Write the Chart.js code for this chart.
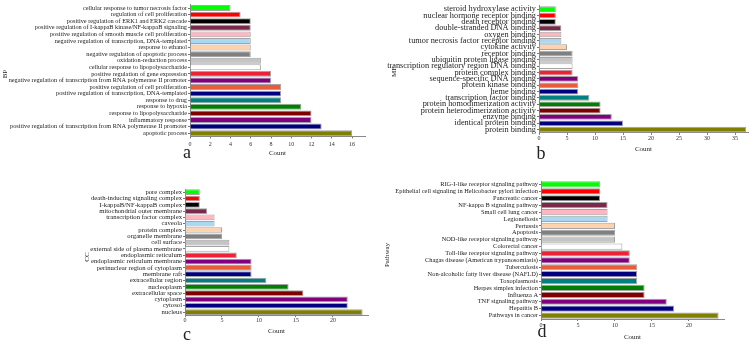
<!DOCTYPE html>
<html><head><meta charset="utf-8">
<script src="https://cdn.jsdelivr.net/npm/chart.js@4/dist/chart.umd.min.js"></script>
<style>
body{margin:0;background:#fff;width:749px;height:342px;overflow:hidden;position:relative;}
canvas{position:absolute;}
.lt{position:absolute;font-family:"Liberation Serif",serif;font-size:18px;color:#222;line-height:1;transform:translate(-50%,-50%);}
.yt{position:absolute;font-family:"Liberation Serif",serif;font-size:7px;color:#222;line-height:1;white-space:nowrap;transform:translate(-50%,-50%) rotate(-90deg);}
</style></head><body>
<canvas id="ca" width="366" height="160" style="left:0;top:0"></canvas>
<canvas id="cb" width="364" height="156" style="left:385px;top:0"></canvas>
<canvas id="cc" width="291" height="154" style="left:78px;top:184px"></canvas>
<canvas id="cd" width="347" height="166" style="left:378px;top:176px"></canvas>
<div class="lt" style="left:187px;top:152px">a</div>
<div class="lt" style="left:541px;top:153px">b</div>
<div class="lt" style="left:187px;top:334px">c</div>
<div class="lt" style="left:542px;top:331px">d</div>
<div class="yt" style="left:5px;top:74px">BP</div>
<div class="yt" style="left:394px;top:72px">MF</div>
<div class="yt" style="left:87px;top:257px">CC</div>
<div class="yt" style="left:387px;top:255px">Pathway</div>
<script>
const bpLabels = ["cellular response to tumor necrosis factor","regulation of cell proliferation","positive regulation of ERK1 and ERK2 cascade","positive regulation of I-kappaB kinase/NF-kappaB signaling","positive regulation of smooth muscle cell proliferation","negative regulation of transcription, DNA-templated","response to ethanol","negative regulation of apoptotic process","oxidation-reduction process","cellular response to lipopolysaccharide","positive regulation of gene expression","negative regulation of transcription from RNA polymerase II promoter","positive regulation of cell proliferation","positive regulation of transcription, DNA-templated","response to drug","response to hypoxia","response to lipopolysaccharide","inflammatory response","positive regulation of transcription from RNA polymerase II promoter","apoptotic process"];
const bpCounts = [4,5,6,6,6,6,6,6,7,7,8,8,9,9,9,11,12,12,13,16];
const bpTicks = [0,2,4,6,8,10,12,14,16];

const mfLabels = ["steroid hydroxylase activity","nuclear hormone receptor binding","death receptor binding","double-stranded DNA binding","oxygen binding","tumor necrosis factor receptor binding","cytokine activity","receptor binding","ubiquitin protein ligase binding","transcription regulatory region DNA binding","protein complex binding","sequence-specific DNA binding","protein kinase binding","heme binding","transcription factor binding","protein homodimerization activity","protein heterodimerization activity","enzyme binding","identical protein binding","protein binding"];
const mfCounts = [3,3,3,4,4,4,5,6,6,6,6,7,7,7,9,11,11,13,15,37];
const mfTicks = [0,5,10,15,20,25,30,35];

const ccLabels = ["pore complex","death-inducing signaling complex","I-kappaB/NF-kappaB complex","mitochondrial outer membrane","transcription factor complex","caveola","protein complex","organelle membrane","cell surface","external side of plasma membrane","endoplasmic reticulum","endoplasmic reticulum membrane","perinuclear region of cytoplasm","membrane raft","extracellular region","nucleoplasm","extracellular space","cytoplasm","cytosol","nucleus"];
const ccCounts = [2,2,2,3,4,4,5,5,6,6,7,9,9,9,11,14,16,22,22,24];
const ccTicks = [0,5,10,15,20];

const pathLabels = ["RIG-I-like receptor signaling pathway","Epithelial cell signaling in Helicobacter pylori infection","Pancreatic cancer","NF-kappa B signaling pathway","Small cell lung cancer","Legionellosis","Pertussis","Apoptosis","NOD-like receptor signaling pathway","Colorectal cancer","Toll-like receptor signaling pathway","Chagas disease (American trypanosomiasis)","Tuberculosis","Non-alcoholic fatty liver disease (NAFLD)","Toxoplasmosis","Herpes simplex infection","Influenza A","TNF signaling pathway","Hepatitis B","Pathways in cancer"];
const pathCounts = [8,8,8,9,9,9,10,10,10,11,12,12,13,13,13,14,14,17,18,24];
const pathTicks = [0,5,10,15,20];

const palette = ["#00ff00","#ff0000","#000000","#7a2a48","#ffb6c1","#aad8f2","#ffd2ae","#808080","#c4c4c4","#ffffff","#ee2236","#800080","#e85c3c","#000080","#008080","#008000","#800000","#800080","#000080","#808000"];

const SERIF = "'Liberation Serif', 'Times New Roman', serif";

function panel(o){
  new Chart(document.getElementById(o.id), {
    type: 'bar',
    data: { labels: o.labels, datasets: [{ data: o.values, backgroundColor: palette, borderColor: '#a4a4a4', borderWidth: 1, categoryPercentage: 1, barPercentage: 0.9 }] },
    options: {
      indexAxis: 'y', responsive: false, animation: false, devicePixelRatio: 1,
      layout: { padding: { top: o.padTop, right: 1, left: 0, bottom: 0 } },
      plugins: { legend: { display: false }, tooltip: { enabled: false } },
      scales: {
        x: {
          min: 0, max: o.max,
          afterBuildTicks: s => { s.ticks = o.ticks.map(v => ({ value: v })); },
          afterFit: s => { s.height = o.xH; },
          grid: { drawOnChartArea: false, drawTicks: true, tickLength: 2, color: '#777' },
          border: { color: '#888', width: 1 },
          ticks: { font: { family: SERIF, size: 6 }, color: '#333', padding: o.tickPad, maxRotation: 0 },
          title: { display: true, text: 'Count', font: { family: SERIF, size: 7 }, color: '#222', padding: { top: 0, bottom: o.countPad } }
        },
        y: {
          afterFit: s => { s.width = o.yW; },
          grid: { drawOnChartArea: false, drawTicks: true, tickLength: 2, offset: false, color: '#777' },
          border: { color: '#888', width: 1 },
          ticks: { font: { family: SERIF, size: o.fs }, color: '#222', padding: 1, autoSkip: false },
          title: { display: false }
        }
      }
    }
  });
}

panel({ id: 'ca', labels: bpLabels, values: bpCounts, ticks: bpTicks, max: 17.28, padTop: 0.6, xH: 23.6, yW: 190, fs: 6.3, tickPad: 2, countPad: 2.8 });
panel({ id: 'cb', labels: mfLabels, values: mfCounts, ticks: mfTicks, max: 37.32, padTop: 1.2, xH: 23.2, yW: 154, fs: 8.3, tickPad: 0, countPad: 2.8 });
panel({ id: 'cc', labels: ccLabels, values: ccCounts, ticks: ccTicks, max: 24.73, padTop: 3.8, xH: 22.8, yW: 107, fs: 6.7, tickPad: 0, countPad: 2.8 });
panel({ id: 'cd', labels: pathLabels, values: pathCounts, ticks: pathTicks, max: 24.73, padTop: 5, xH: 23, yW: 163, fs: 6.4, tickPad: 1, countPad: 0.8 });
</script>
</body></html>
